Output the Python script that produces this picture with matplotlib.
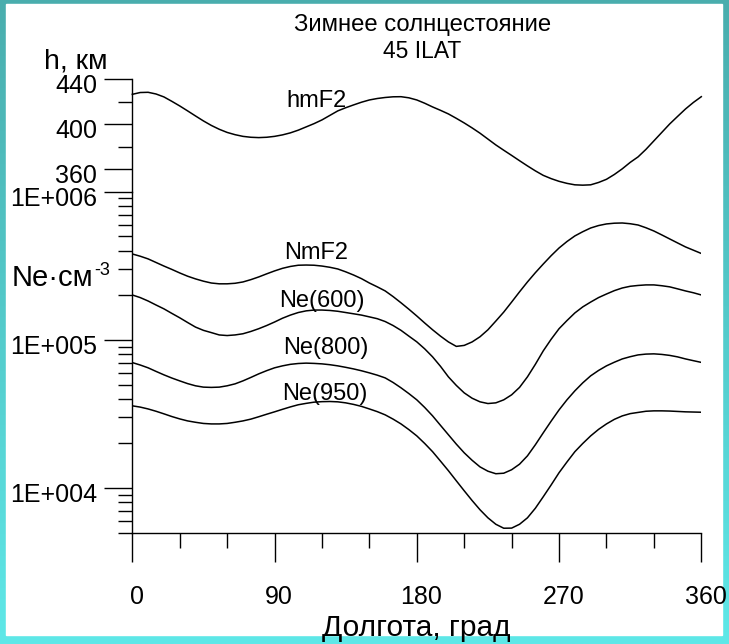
import numpy as np
import matplotlib
matplotlib.use("Agg")
import matplotlib.pyplot as plt
import matplotlib.transforms as mtransforms
from matplotlib.patches import Rectangle
from matplotlib.ticker import LogLocator, NullFormatter, MultipleLocator, FixedLocator

plt.rcParams['font.family'] = ['Liberation Sans', 'DejaVu Sans']

# longitude grid, deg
lon = np.arange(0, 361, 5)

# hmF2, km
hmF2 = [426.4, 428.0, 428.2, 426.7, 424.1, 420.2, 416.1, 411.7, 407.2, 402.8,
        398.8, 395.4, 392.6, 390.6, 389.1, 388.3, 388.0, 388.3, 389.1, 390.4,
        392.2, 394.6, 397.5, 400.4, 403.7, 407.7, 411.7, 414.5, 417.0, 419.4,
        421.4, 422.7, 423.6, 424.2, 424.3, 423.3, 421.4, 418.5, 415.2, 412.2,
        409.0, 405.1, 401.0, 396.6, 391.9, 386.7, 381.5, 376.8, 372.2, 367.5,
        362.9, 358.5, 354.5, 351.6, 349.2, 347.4, 346.1, 345.8, 346.1, 348.2,
        351.0, 355.3, 360.3, 366.0, 370.9, 377.6, 385.1, 392.6, 400.1, 406.8,
        413.4, 419.2, 424.3]

# electron density, cm^-3
NmF2 = [3.80e5, 3.67e5, 3.52e5, 3.33e5, 3.15e5, 2.99e5, 2.83e5, 2.69e5, 2.58e5, 2.49e5,
        2.42e5, 2.39e5, 2.39e5, 2.41e5, 2.46e5, 2.55e5, 2.66e5, 2.79e5, 2.92e5, 3.04e5,
        3.13e5, 3.19e5, 3.20e5, 3.19e5, 3.15e5, 3.09e5, 3.01e5, 2.88e5, 2.74e5, 2.59e5,
        2.42e5, 2.28e5, 2.14e5, 1.96e5, 1.78e5, 1.61e5, 1.45e5, 1.30e5, 1.17e5, 1.06e5,
        9.69e4, 9.04e4, 9.18e4, 9.69e4, 1.05e5, 1.17e5, 1.34e5, 1.54e5, 1.80e5, 2.11e5,
        2.46e5, 2.84e5, 3.25e5, 3.70e5, 4.17e5, 4.61e5, 5.03e5, 5.37e5, 5.69e5, 5.91e5,
        6.06e5, 6.13e5, 6.15e5, 6.08e5, 5.96e5, 5.71e5, 5.43e5, 5.11e5, 4.80e5, 4.51e5,
        4.24e5, 4.03e5, 3.83e5]
Ne600 = [2.01e5, 1.93e5, 1.83e5, 1.72e5, 1.62e5, 1.51e5, 1.41e5, 1.31e5, 1.22e5, 1.16e5,
         1.12e5, 1.08e5, 1.07e5, 1.08e5, 1.10e5, 1.14e5, 1.19e5, 1.25e5, 1.32e5, 1.40e5,
         1.47e5, 1.53e5, 1.57e5, 1.59e5, 1.59e5, 1.58e5, 1.56e5, 1.53e5, 1.50e5, 1.47e5,
         1.43e5, 1.39e5, 1.33e5, 1.25e5, 1.16e5, 1.06e5, 9.7e4, 8.7e4, 7.68e4, 6.63e4,
         5.63e4, 4.93e4, 4.39e4, 4.04e4, 3.82e4, 3.72e4, 3.76e4, 3.94e4, 4.26e4, 4.78e4,
         5.63e4, 6.84e4, 8.43e4, 1.01e5, 1.19e5, 1.35e5, 1.52e5, 1.67e5, 1.80e5, 1.93e5,
         2.04e5, 2.15e5, 2.24e5, 2.30e5, 2.33e5, 2.35e5, 2.35e5, 2.32e5, 2.28e5, 2.21e5,
         2.14e5, 2.08e5, 2.01e5]
Ne800 = [7.03e4, 6.77e4, 6.48e4, 6.13e4, 5.81e4, 5.53e4, 5.29e4, 5.07e4, 4.90e4, 4.80e4,
         4.78e4, 4.80e4, 4.90e4, 5.05e4, 5.29e4, 5.58e4, 5.90e4, 6.20e4, 6.48e4, 6.68e4,
         6.84e4, 6.93e4, 6.97e4, 6.94e4, 6.89e4, 6.80e4, 6.68e4, 6.53e4, 6.37e4, 6.19e4,
         5.99e4, 5.78e4, 5.54e4, 5.16e4, 4.75e4, 4.34e4, 3.94e4, 3.50e4, 3.07e4, 2.65e4,
         2.29e4, 1.98e4, 1.73e4, 1.54e4, 1.39e4, 1.30e4, 1.25e4, 1.26e4, 1.33e4, 1.45e4,
         1.65e4, 1.96e4, 2.36e4, 2.83e4, 3.37e4, 3.94e4, 4.53e4, 5.13e4, 5.72e4, 6.22e4,
         6.68e4, 7.07e4, 7.44e4, 7.70e4, 7.92e4, 8.02e4, 8.05e4, 7.98e4, 7.86e4, 7.68e4,
         7.44e4, 7.24e4, 7.05e4]
Ne950 = [3.59e4, 3.52e4, 3.42e4, 3.30e4, 3.17e4, 3.04e4, 2.93e4, 2.84e4, 2.78e4, 2.73e4,
         2.71e4, 2.71e4, 2.73e4, 2.78e4, 2.84e4, 2.92e4, 3.03e4, 3.15e4, 3.27e4, 3.40e4,
         3.53e4, 3.65e4, 3.73e4, 3.80e4, 3.83e4, 3.84e4, 3.82e4, 3.76e4, 3.67e4, 3.56e4,
         3.42e4, 3.28e4, 3.12e4, 2.92e4, 2.71e4, 2.48e4, 2.25e4, 2.00e4, 1.76e4, 1.52e4,
         1.31e4, 1.12e4, 9.59e3, 8.24e3, 7.14e3, 6.30e3, 5.70e3, 5.36e3, 5.37e3, 5.70e3,
         6.30e3, 7.31e3, 8.74e3, 1.05e4, 1.27e4, 1.50e4, 1.76e4, 2.00e4, 2.25e4, 2.49e4,
         2.71e4, 2.91e4, 3.07e4, 3.18e4, 3.24e4, 3.30e4, 3.32e4, 3.32e4, 3.31e4, 3.29e4,
         3.27e4, 3.26e4, 3.25e4]

x_ticks = [0, 90, 180, 270, 360]
h_ticks = [360, 400, 440]
ne_ticks = [1e4, 1e5, 1e6]
ne_ticklabels = ['1E+004', '1E+005', '1E+006']

W, H = 729, 644
fig = plt.figure(figsize=(W / 100, H / 100), dpi=100)


def fx(x):
    return x / W


def fy(y):
    return 1 - y / H


# teal frame with white panel
bg = fig.add_axes([0, 0, 1, 1], zorder=-10)
grad = np.linspace(0, 1, 256).reshape(-1, 1)
cmap = matplotlib.colors.LinearSegmentedColormap.from_list('frame', ['#49adad', '#5ee8e8'])
bg.imshow(grad, aspect='auto', cmap=cmap, extent=[0, W, H, 0])
bg.add_patch(Rectangle((6, 4), 716, 631, color='white'))
bg.set_xlim(0, W)
bg.set_ylim(H, 0)
bg.axis('off')

x0, x1 = 132.3, 701.3
y_bot, y_mid, y_top = 532.7, 191.7, 79.0
ax_ne = fig.add_axes([fx(x0), fy(y_bot), (x1 - x0) / W, (y_bot - y_mid) / H])
ax_h = fig.add_axes([fx(x0), fy(y_mid), (x1 - x0) / W, (y_mid - y_top) / H])

lw = 1.1
for ax in (ax_ne, ax_h):
    ax.patch.set_alpha(0)
    for s in ('top', 'right'):
        ax.spines[s].set_visible(False)
    ax.spines['left'].set_linewidth(1.0)
    ax.spines['bottom'].set_linewidth(1.0)
    ax.set_xlim(0, 360)

# density panel
ax_ne.set_yscale('log')
for ne in (NmF2, Ne600, Ne800, Ne950):
    ax_ne.plot(lon, ne, color='black', lw=lw)
ax_ne.set_ylim(5000, 1e6)
ax_ne.set_yticks(ne_ticks, ne_ticklabels)
ax_ne.yaxis.set_minor_locator(LogLocator(base=10, subs=np.arange(2, 10)))
ax_ne.yaxis.set_minor_formatter(NullFormatter())
ax_ne.set_xticks(x_ticks)
ax_ne.xaxis.set_minor_locator(MultipleLocator(30))
ax_ne.tick_params(axis='x', which='major', direction='out', length=20.9, width=1.0,
                  pad=17, labelsize=18)
ax_ne.tick_params(axis='x', which='minor', direction='out', length=10.5, width=1.0)

# height panel
ax_h.plot(lon, hmF2, color='black', lw=lw, clip_on=False)
ax_h.set_ylim(340, 440)
ax_h.set_yticks(h_ticks)
ax_h.yaxis.set_minor_locator(FixedLocator([380, 420]))
ax_h.spines['bottom'].set_visible(False)
ax_h.set_xticks([])

for ax in (ax_ne, ax_h):
    ax.tick_params(axis='y', which='major', direction='out', length=20.2, width=1.0,
                   pad=5, labelsize=18)
    ax.tick_params(axis='y', which='minor', direction='out', length=10, width=1.0)

# nudge tick labels like the original
down = mtransforms.ScaledTranslation(0, -4.5 / 100, fig.dpi_scale_trans)
right = mtransforms.ScaledTranslation(4.5 / 100, 0, fig.dpi_scale_trans)
for ax in (ax_ne, ax_h):
    for lbl in ax.get_yticklabels():
        lbl.set_transform(lbl.get_transform() + down)
for lbl in ax_ne.get_xticklabels():
    lbl.set_transform(lbl.get_transform() + right)

# texts
fig.text(fx(423), fy(30.7), 'Зимнее солнцестояние', ha='center', va='baseline', fontsize=17.2)
fig.text(fx(422), fy(58.3), '45 ILAT', ha='center', va='baseline', fontsize=16.5)
fig.text(fx(44), fy(68), 'h, км', ha='left', va='baseline', fontsize=20.5)
fig.text(fx(12), fy(286), 'Ne·см', ha='left', va='baseline', fontsize=21)
fig.text(fx(94), fy(275), '-3', ha='left', va='baseline', fontsize=13)
fig.text(fx(416), fy(636), 'Долгота, град', ha='center', va='baseline', fontsize=21.5,
         zorder=5)

curve_labels = ['hmF2', 'NmF2', 'Ne(600)', 'Ne(800)', 'Ne(950)']
label_xy = [(316, 106.7), (316, 259.3), (322, 307.3), (326, 354), (324.5, 400)]
for txt, (lx, ly) in zip(curve_labels, label_xy):
    fig.text(fx(lx), fy(ly), txt, ha='center', va='baseline', fontsize=17)

fig.savefig('out.png', dpi=100)
